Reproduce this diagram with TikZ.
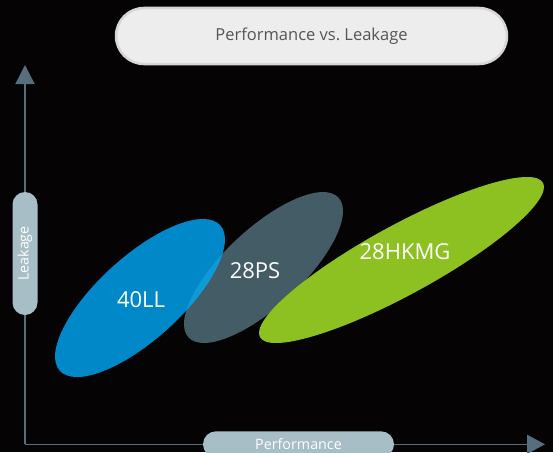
\documentclass[tikz,border=0pt]{standalone}
\usepackage{fontspec}
\setmainfont{Open Sans}
\usetikzlibrary{arrows.meta,shapes.misc}
\definecolor{bgblack}{HTML}{050304}
\definecolor{axisslate}{HTML}{586E7E}
\definecolor{pillblue}{HTML}{A8BEC6}
\definecolor{titlefill}{HTML}{EDEDED}
\definecolor{titleedge}{HTML}{D6D6D6}
\definecolor{titletext}{HTML}{555555}
\definecolor{llblue}{HTML}{0088C8}
\definecolor{psgray}{HTML}{445C66}
\definecolor{lapblue}{HTML}{0F99D7}
\definecolor{hkgreen}{HTML}{8DC021}
\tikzset{
  axisline/.style={draw=axisslate, line width=1.4pt},
  axispill/.style={rounded rectangle, fill=pillblue, text=white, inner sep=0pt,
    font=\fontsize{14.3}{16}\selectfont},
  blob/.style={text=white, font=\fontsize{22}{26}\selectfont},
}
\begin{document}
\begin{tikzpicture}[x=1pt, y=-1pt]
  \clip (0,0) rectangle (553,452);
  \fill[bgblack] (0,0) rectangle (553,452);

  % title banner
  \node[rounded rectangle, fill=titlefill, draw=titleedge, line width=2.5pt,
        minimum width=391pt, minimum height=56pt, inner sep=0pt,
        text=titletext, font=\fontsize{16.5}{20}\selectfont]
        (title) at (311.5,36) {Performance vs.\ Leakage};

  % axes
  \coordinate (origin) at (25,444.3);
  \coordinate (ytip) at (25,65);
  \coordinate (xtip) at (545,444.3);
  \draw[axisline, -{Triangle[length=19pt, width=19pt]}] (origin) -- (ytip);
  \draw[axisline, -{Triangle[length=18pt, width=19pt]}] (origin) -- (xtip);

  \node[axispill, rotate=90, minimum width=123pt, minimum height=25pt]
        (ylab) at (25,253.5) {Leakage};
  \node[axispill, minimum width=191pt, minimum height=26pt]
        (xlab) at (298.5,444.3) {Performance};

  % process regions
  \fill[psgray, rotate around={43:(263.5,267.5)}]
        (263.5,267.5) ellipse [x radius=102.5pt, y radius=38.8pt];
  \fill[llblue, rotate around={42.2:(140,298)}]
        (140,298) ellipse [x radius=108.3pt, y radius=41.6pt];
  \begin{scope}
    \clip[rotate around={42.2:(140,298)}]
        (140,298) ellipse [x radius=108.3pt, y radius=41.6pt];
    \fill[lapblue, rotate around={43:(263.5,267.5)}]
        (263.5,267.5) ellipse [x radius=102.5pt, y radius=38.8pt];
  \end{scope}
  \fill[hkgreen, rotate around={28.6:(401.5,260)}]
        (401.5,260) ellipse [x radius=161.2pt, y radius=34.8pt];

  \node[blob] (ll) at (141,300) {40LL};
  \node[blob] (ps) at (255,270.5) {28PS};
  \node[blob] (hk) at (405,251.5) {28HKMG};
\end{tikzpicture}
\end{document}
